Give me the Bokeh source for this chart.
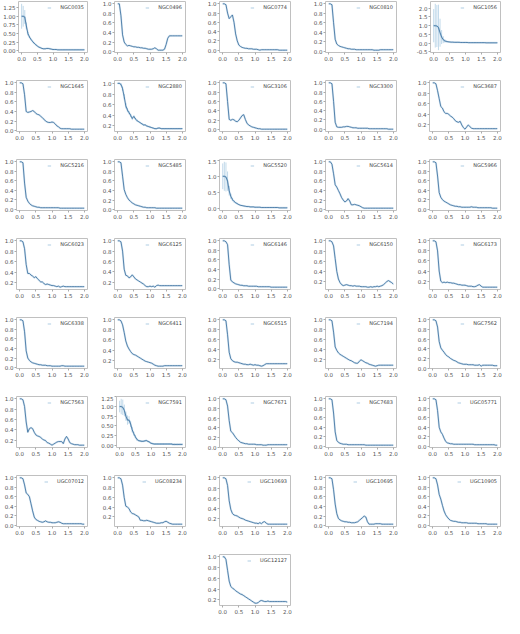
from bokeh.plotting import figure
from bokeh.layouts import column, row
from bokeh.models import (Range1d, DataRange1d, SingleIntervalTicker, NumeralTickFormatter,
                          Legend, LegendItem, Spacer, ColumnDataSource)
from bokeh.embed import file_html
from bokeh.resources import INLINE

# ---------------- data ----------------
radius = [0.0, 0.05, 0.1, 0.15, 0.2, 0.25, 0.3, 0.35, 0.4, 0.45,
          0.5, 0.55, 0.6, 0.65, 0.7, 0.75, 0.8, 0.85, 0.9, 0.95,
          1.0, 1.05, 1.1, 1.15, 1.2, 1.25, 1.3, 1.35, 1.4, 1.45,
          1.5, 1.55, 1.6, 1.65, 1.7, 1.75, 1.8, 1.85, 1.9, 1.95,
          2.0]

galaxies = ["NGC0035", "NGC0496", "NGC0774", "NGC0810", "NGC1056",
            "NGC1645", "NGC2880", "NGC3106", "NGC3300", "NGC3687",
            "NGC5216", "NGC5485", "NGC5520", "NGC5614", "NGC5966",
            "NGC6023", "NGC6125", "NGC6146", "NGC6150", "NGC6173",
            "NGC6338", "NGC6411", "NGC6515", "NGC7194", "NGC7562",
            "NGC7563", "NGC7591", "NGC7671", "NGC7683", "UGC05771",
            "UGC07012", "UGC08234", "UGC10693", "UGC10695", "UGC10905",
            "UGC12127"]

y_NGC0035 = [1.00, 1.00, 0.98, 0.72, 0.50, 0.40, 0.33, 0.27, 0.22, 0.18,
             0.14, 0.11, 0.09, 0.07, 0.06, 0.06, 0.07, 0.07, 0.06, 0.05,
             0.04, 0.04, 0.04, 0.03, 0.03, 0.03, 0.03, 0.03, 0.03, 0.03,
             0.03, 0.03, 0.03, 0.03, 0.03, 0.03, 0.03, 0.03, 0.03, 0.03,
             0.03]
e_NGC0035 = [0.36, 0.30, 0.20, 0.10, 0.05, 0.03, 0.02, 0.02, 0.02, 0.02,
             0.01, 0.01, 0.01, 0.01, 0.01, 0.01, 0.01, 0.01, 0.01, 0.01,
             0.01, 0.01, 0.01, 0.01, 0.01, 0.01, 0.01, 0.01, 0.01, 0.01,
             0.01, 0.01, 0.01, 0.01, 0.01, 0.01, 0.01, 0.01, 0.01, 0.01,
             0.01]
y_NGC0496 = [1.00, 1.00, 0.75, 0.35, 0.20, 0.15, 0.12, 0.13, 0.12, 0.11,
             0.10, 0.10, 0.09, 0.09, 0.08, 0.08, 0.07, 0.07, 0.06, 0.05,
             0.05, 0.05, 0.06, 0.08, 0.06, 0.03, 0.03, 0.03, 0.03, 0.05,
             0.15, 0.28, 0.33, 0.33, 0.33, 0.33, 0.33, 0.33, 0.33, 0.33,
             0.33]
y_NGC0774 = [1.00, 1.00, 0.98, 0.80, 0.68, 0.72, 0.76, 0.60, 0.35, 0.20,
             0.11, 0.08, 0.06, 0.05, 0.04, 0.04, 0.03, 0.03, 0.03, 0.02,
             0.02, 0.02, 0.01, 0.00, 0.01, 0.01, 0.01, 0.01, 0.01, 0.01,
             0.01, 0.01, 0.01, 0.01, 0.01, 0.00, 0.00, 0.00, 0.00, 0.00,
             0.00]
y_NGC0810 = [1.00, 1.00, 0.98, 0.60, 0.25, 0.15, 0.12, 0.10, 0.09, 0.08,
             0.07, 0.06, 0.05, 0.05, 0.04, 0.04, 0.04, 0.03, 0.03, 0.03,
             0.03, 0.03, 0.03, 0.03, 0.03, 0.03, 0.03, 0.03, 0.02, 0.02,
             0.02, 0.02, 0.03, 0.03, 0.03, 0.03, 0.03, 0.03, 0.03, 0.03,
             0.03]
y_NGC1056 = [1.00, 1.00, 0.98, 0.90, 0.60, 0.35, 0.20, 0.13, 0.10, 0.08,
             0.07, 0.06, 0.06, 0.05, 0.05, 0.05, 0.05, 0.04, 0.04, 0.04,
             0.04, 0.04, 0.03, 0.03, 0.03, 0.03, 0.03, 0.03, 0.03, 0.03,
             0.03, 0.03, 0.03, 0.02, 0.02, 0.02, 0.02, 0.02, 0.02, 0.02,
             0.02]
e_NGC1056 = [0.95, 1.25, 1.20, 1.30, 0.80, 0.40, 0.20, 0.10, 0.05, 0.03,
             0.02, 0.02, 0.02, 0.02, 0.02, 0.02, 0.02, 0.02, 0.02, 0.02,
             0.02, 0.02, 0.02, 0.02, 0.02, 0.02, 0.02, 0.02, 0.02, 0.02,
             0.02, 0.02, 0.02, 0.02, 0.02, 0.02, 0.02, 0.02, 0.02, 0.02,
             0.02]
y_NGC1645 = [1.00, 1.00, 0.98, 0.75, 0.40, 0.38, 0.39, 0.40, 0.42, 0.40,
             0.36, 0.34, 0.33, 0.30, 0.27, 0.24, 0.20, 0.18, 0.17, 0.17,
             0.18, 0.17, 0.14, 0.10, 0.08, 0.05, 0.04, 0.04, 0.04, 0.04,
             0.04, 0.04, 0.03, 0.03, 0.03, 0.03, 0.03, 0.03, 0.03, 0.03,
             0.03]
y_NGC2880 = [1.00, 1.00, 0.98, 0.90, 0.75, 0.58, 0.50, 0.45, 0.40, 0.34,
             0.38, 0.33, 0.30, 0.28, 0.26, 0.24, 0.22, 0.22, 0.20, 0.19,
             0.18, 0.17, 0.16, 0.15, 0.15, 0.16, 0.16, 0.15, 0.15, 0.15,
             0.15, 0.15, 0.15, 0.15, 0.15, 0.15, 0.15, 0.15, 0.15, 0.15,
             0.15]
e_NGC2880 = [0.01, 0.01, 0.02, 0.04, 0.05, 0.05, 0.04, 0.03, 0.03, 0.03,
             0.02, 0.02, 0.02, 0.01, 0.01, 0.01, 0.01, 0.01, 0.01, 0.01,
             0.01, 0.01, 0.01, 0.01, 0.01, 0.01, 0.01, 0.01, 0.01, 0.01,
             0.01, 0.01, 0.01, 0.01, 0.01, 0.01, 0.01, 0.01, 0.01, 0.01,
             0.01]
y_NGC3106 = [1.00, 1.00, 0.98, 0.60, 0.22, 0.20, 0.22, 0.21, 0.18, 0.17,
             0.20, 0.25, 0.30, 0.32, 0.22, 0.14, 0.10, 0.08, 0.06, 0.05,
             0.04, 0.03, 0.02, 0.02, 0.01, 0.01, 0.01, 0.01, 0.01, 0.01,
             0.01, 0.01, 0.01, 0.01, 0.01, 0.01, 0.01, 0.01, 0.01, 0.01,
             0.01]
y_NGC3300 = [1.00, 1.00, 0.98, 0.60, 0.15, 0.05, 0.04, 0.04, 0.04, 0.05,
             0.05, 0.06, 0.06, 0.05, 0.04, 0.03, 0.03, 0.03, 0.02, 0.02,
             0.02, 0.02, 0.02, 0.02, 0.02, 0.01, 0.01, 0.01, 0.01, 0.01,
             0.01, 0.01, 0.01, 0.01, 0.01, 0.01, 0.01, 0.00, 0.00, 0.00,
             0.00]
y_NGC3687 = [1.00, 1.00, 0.98, 0.85, 0.70, 0.55, 0.52, 0.45, 0.42, 0.42,
             0.40, 0.37, 0.35, 0.32, 0.28, 0.26, 0.25, 0.27, 0.20, 0.15,
             0.12, 0.16, 0.20, 0.17, 0.14, 0.13, 0.13, 0.13, 0.13, 0.13,
             0.13, 0.13, 0.13, 0.13, 0.13, 0.13, 0.13, 0.13, 0.13, 0.13,
             0.13]
y_NGC5216 = [1.00, 1.00, 0.98, 0.55, 0.25, 0.17, 0.12, 0.09, 0.07, 0.06,
             0.05, 0.04, 0.04, 0.03, 0.03, 0.03, 0.03, 0.03, 0.03, 0.03,
             0.03, 0.03, 0.03, 0.03, 0.03, 0.02, 0.02, 0.02, 0.02, 0.02,
             0.02, 0.02, 0.02, 0.02, 0.02, 0.02, 0.02, 0.02, 0.02, 0.02,
             0.02]
y_NGC5485 = [1.00, 1.00, 0.98, 0.70, 0.42, 0.32, 0.25, 0.20, 0.17, 0.14,
             0.12, 0.10, 0.09, 0.08, 0.07, 0.06, 0.05, 0.05, 0.04, 0.04,
             0.04, 0.04, 0.04, 0.04, 0.03, 0.03, 0.03, 0.03, 0.03, 0.03,
             0.03, 0.03, 0.03, 0.03, 0.03, 0.03, 0.03, 0.03, 0.03, 0.03,
             0.03]
y_NGC5520 = [1.00, 1.00, 0.98, 0.85, 0.55, 0.38, 0.28, 0.22, 0.18, 0.15,
             0.12, 0.10, 0.09, 0.08, 0.07, 0.06, 0.06, 0.05, 0.05, 0.05,
             0.04, 0.04, 0.04, 0.04, 0.03, 0.03, 0.03, 0.03, 0.03, 0.03,
             0.03, 0.03, 0.03, 0.03, 0.03, 0.02, 0.02, 0.02, 0.02, 0.02,
             0.02]
e_NGC5520 = [0.40, 0.45, 0.45, 0.30, 0.15, 0.08, 0.05, 0.03, 0.02, 0.02,
             0.01, 0.01, 0.01, 0.01, 0.01, 0.01, 0.01, 0.01, 0.01, 0.01,
             0.01, 0.01, 0.01, 0.01, 0.01, 0.01, 0.01, 0.01, 0.01, 0.01,
             0.01, 0.01, 0.01, 0.01, 0.01, 0.01, 0.01, 0.01, 0.01, 0.01,
             0.01]
y_NGC5614 = [1.00, 1.00, 0.95, 0.75, 0.52, 0.47, 0.40, 0.33, 0.25, 0.20,
             0.16, 0.18, 0.23, 0.18, 0.10, 0.10, 0.11, 0.10, 0.09, 0.08,
             0.06, 0.04, 0.03, 0.03, 0.03, 0.03, 0.03, 0.03, 0.03, 0.03,
             0.03, 0.03, 0.03, 0.03, 0.03, 0.03, 0.03, 0.03, 0.03, 0.03,
             0.03]
y_NGC5966 = [1.00, 1.00, 0.98, 0.70, 0.35, 0.25, 0.20, 0.17, 0.15, 0.13,
             0.11, 0.09, 0.08, 0.07, 0.06, 0.06, 0.05, 0.05, 0.04, 0.04,
             0.04, 0.04, 0.04, 0.04, 0.05, 0.04, 0.04, 0.04, 0.03, 0.03,
             0.03, 0.03, 0.03, 0.03, 0.03, 0.03, 0.03, 0.02, 0.02, 0.02,
             0.02]
y_NGC6023 = [1.00, 1.00, 0.98, 0.85, 0.55, 0.38, 0.38, 0.35, 0.33, 0.30,
             0.32, 0.28, 0.25, 0.22, 0.22, 0.19, 0.17, 0.18, 0.17, 0.16,
             0.15, 0.15, 0.14, 0.13, 0.14, 0.12, 0.13, 0.14, 0.13, 0.13,
             0.13, 0.13, 0.13, 0.13, 0.13, 0.13, 0.13, 0.13, 0.13, 0.13,
             0.13]
y_NGC6125 = [1.00, 1.00, 0.98, 0.80, 0.45, 0.33, 0.32, 0.28, 0.30, 0.34,
             0.30, 0.26, 0.24, 0.22, 0.20, 0.18, 0.16, 0.13, 0.11, 0.11,
             0.12, 0.11, 0.12, 0.10, 0.13, 0.14, 0.13, 0.13, 0.13, 0.13,
             0.13, 0.13, 0.13, 0.13, 0.13, 0.13, 0.13, 0.13, 0.13, 0.13,
             0.13]
y_NGC6146 = [1.00, 1.00, 0.98, 0.92, 0.50, 0.18, 0.14, 0.12, 0.10, 0.09,
             0.08, 0.07, 0.07, 0.06, 0.06, 0.06, 0.05, 0.05, 0.05, 0.05,
             0.05, 0.05, 0.04, 0.04, 0.04, 0.04, 0.04, 0.04, 0.04, 0.04,
             0.03, 0.03, 0.03, 0.03, 0.03, 0.03, 0.03, 0.03, 0.03, 0.03,
             0.03]
y_NGC6150 = [1.00, 1.00, 0.98, 0.90, 0.65, 0.40, 0.25, 0.18, 0.14, 0.12,
             0.13, 0.14, 0.13, 0.12, 0.12, 0.11, 0.12, 0.11, 0.11, 0.11,
             0.10, 0.10, 0.10, 0.10, 0.09, 0.09, 0.10, 0.09, 0.10, 0.10,
             0.11, 0.10, 0.11, 0.12, 0.14, 0.17, 0.20, 0.22, 0.20, 0.18,
             0.15]
y_NGC6173 = [1.00, 1.00, 0.98, 0.80, 0.40, 0.20, 0.17, 0.18, 0.17, 0.18,
             0.17, 0.17, 0.16, 0.16, 0.15, 0.14, 0.13, 0.13, 0.12, 0.12,
             0.12, 0.11, 0.10, 0.10, 0.10, 0.09, 0.09, 0.10, 0.12, 0.13,
             0.10, 0.08, 0.08, 0.08, 0.08, 0.08, 0.08, 0.08, 0.08, 0.08,
             0.08]
y_NGC6338 = [1.00, 1.00, 0.98, 0.75, 0.35, 0.20, 0.15, 0.12, 0.10, 0.09,
             0.08, 0.07, 0.06, 0.06, 0.05, 0.05, 0.05, 0.04, 0.04, 0.04,
             0.03, 0.03, 0.03, 0.03, 0.03, 0.03, 0.04, 0.04, 0.03, 0.03,
             0.03, 0.03, 0.03, 0.03, 0.03, 0.03, 0.03, 0.03, 0.03, 0.03,
             0.03]
y_NGC6411 = [1.00, 1.00, 0.98, 0.90, 0.75, 0.58, 0.48, 0.42, 0.37, 0.33,
             0.31, 0.30, 0.28, 0.26, 0.24, 0.22, 0.20, 0.18, 0.17, 0.16,
             0.15, 0.14, 0.12, 0.10, 0.09, 0.08, 0.08, 0.08, 0.08, 0.09,
             0.09, 0.09, 0.09, 0.09, 0.09, 0.09, 0.09, 0.09, 0.09, 0.09,
             0.09]
y_NGC6515 = [1.00, 1.00, 0.98, 0.70, 0.35, 0.22, 0.18, 0.16, 0.15, 0.15,
             0.14, 0.13, 0.12, 0.11, 0.11, 0.10, 0.10, 0.11, 0.10, 0.09,
             0.10, 0.09, 0.09, 0.08, 0.07, 0.08, 0.10, 0.12, 0.12, 0.12,
             0.12, 0.12, 0.12, 0.12, 0.12, 0.12, 0.12, 0.12, 0.12, 0.12,
             0.12]
y_NGC7194 = [1.00, 1.00, 0.98, 0.75, 0.45, 0.38, 0.33, 0.30, 0.28, 0.26,
             0.24, 0.22, 0.20, 0.18, 0.17, 0.15, 0.13, 0.12, 0.12, 0.16,
             0.19, 0.17, 0.15, 0.13, 0.12, 0.10, 0.09, 0.08, 0.07, 0.06,
             0.07, 0.08, 0.08, 0.08, 0.08, 0.08, 0.08, 0.08, 0.08, 0.08,
             0.08]
y_NGC7562 = [1.00, 1.00, 0.98, 0.85, 0.55, 0.42, 0.37, 0.33, 0.28, 0.25,
             0.23, 0.20, 0.18, 0.16, 0.15, 0.13, 0.11, 0.10, 0.09, 0.08,
             0.08, 0.08, 0.07, 0.07, 0.07, 0.07, 0.06, 0.06, 0.06, 0.07,
             0.04, 0.06, 0.06, 0.06, 0.06, 0.06, 0.06, 0.06, 0.05, 0.05,
             0.05]
y_NGC7563 = [1.00, 1.00, 0.98, 0.85, 0.55, 0.35, 0.42, 0.44, 0.42, 0.35,
             0.30, 0.28, 0.27, 0.25, 0.22, 0.20, 0.19, 0.15, 0.14, 0.12,
             0.10, 0.12, 0.14, 0.16, 0.17, 0.17, 0.17, 0.13, 0.22, 0.27,
             0.22, 0.15, 0.13, 0.12, 0.11, 0.11, 0.11, 0.10, 0.10, 0.10,
             0.10]
y_NGC7591 = [1.00, 1.00, 0.98, 0.90, 0.75, 0.65, 0.65, 0.55, 0.40, 0.30,
             0.22, 0.15, 0.12, 0.11, 0.10, 0.10, 0.11, 0.12, 0.10, 0.08,
             0.05, 0.04, 0.03, 0.03, 0.03, 0.03, 0.03, 0.03, 0.03, 0.03,
             0.03, 0.03, 0.03, 0.03, 0.02, 0.02, 0.02, 0.02, 0.02, 0.02,
             0.02]
e_NGC7591 = [0.15, 0.20, 0.20, 0.15, 0.12, 0.12, 0.10, 0.08, 0.07, 0.05,
             0.04, 0.03, 0.02, 0.02, 0.02, 0.02, 0.02, 0.02, 0.02, 0.02,
             0.02, 0.02, 0.02, 0.02, 0.02, 0.02, 0.02, 0.02, 0.02, 0.02,
             0.02, 0.02, 0.02, 0.02, 0.02, 0.02, 0.02, 0.02, 0.02, 0.02,
             0.02]
y_NGC7671 = [1.00, 1.00, 0.98, 0.85, 0.55, 0.33, 0.30, 0.25, 0.20, 0.16,
             0.13, 0.10, 0.09, 0.08, 0.07, 0.07, 0.06, 0.06, 0.06, 0.06,
             0.06, 0.05, 0.05, 0.05, 0.05, 0.04, 0.04, 0.04, 0.05, 0.05,
             0.05, 0.05, 0.05, 0.05, 0.05, 0.05, 0.05, 0.05, 0.05, 0.05,
             0.05]
y_NGC7683 = [1.00, 1.00, 0.98, 0.70, 0.30, 0.12, 0.08, 0.06, 0.05, 0.04,
             0.04, 0.04, 0.03, 0.03, 0.03, 0.03, 0.03, 0.03, 0.03, 0.03,
             0.03, 0.03, 0.03, 0.02, 0.02, 0.02, 0.02, 0.02, 0.02, 0.02,
             0.02, 0.02, 0.02, 0.02, 0.02, 0.02, 0.02, 0.02, 0.02, 0.02,
             0.02]
y_UGC05771 = [1.00, 1.00, 0.98, 0.75, 0.40, 0.30, 0.25, 0.17, 0.10, 0.07,
              0.06, 0.05, 0.05, 0.04, 0.04, 0.04, 0.04, 0.04, 0.04, 0.04,
              0.04, 0.04, 0.04, 0.04, 0.04, 0.04, 0.03, 0.03, 0.03, 0.03,
              0.03, 0.03, 0.03, 0.03, 0.03, 0.03, 0.03, 0.03, 0.03, 0.02,
              0.02]
y_UGC07012 = [1.00, 1.00, 0.98, 0.85, 0.68, 0.65, 0.60, 0.45, 0.30, 0.17,
              0.12, 0.10, 0.08, 0.07, 0.06, 0.07, 0.09, 0.07, 0.06, 0.06,
              0.05, 0.05, 0.05, 0.06, 0.07, 0.06, 0.04, 0.03, 0.03, 0.03,
              0.03, 0.03, 0.03, 0.03, 0.03, 0.03, 0.03, 0.03, 0.03, 0.02,
              0.02]
y_UGC08234 = [1.00, 1.00, 0.98, 0.85, 0.60, 0.42, 0.40, 0.37, 0.30, 0.27,
              0.26, 0.24, 0.22, 0.20, 0.13, 0.13, 0.12, 0.12, 0.13, 0.12,
              0.11, 0.10, 0.09, 0.08, 0.07, 0.07, 0.07, 0.08, 0.08, 0.10,
              0.11, 0.09, 0.07, 0.06, 0.05, 0.05, 0.05, 0.05, 0.05, 0.05,
              0.05]
y_UGC10693 = [1.00, 1.00, 0.98, 0.85, 0.55, 0.38, 0.30, 0.27, 0.26, 0.25,
              0.23, 0.21, 0.20, 0.19, 0.17, 0.16, 0.15, 0.14, 0.13, 0.12,
              0.11, 0.11, 0.10, 0.12, 0.10, 0.13, 0.14, 0.11, 0.09, 0.09,
              0.09, 0.09, 0.09, 0.09, 0.09, 0.09, 0.09, 0.09, 0.09, 0.09,
              0.09]
y_UGC10695 = [1.00, 1.00, 0.98, 0.75, 0.45, 0.25, 0.15, 0.12, 0.10, 0.09,
              0.08, 0.08, 0.07, 0.07, 0.06, 0.06, 0.06, 0.07, 0.08, 0.11,
              0.14, 0.17, 0.20, 0.18, 0.08, 0.03, 0.03, 0.03, 0.03, 0.04,
              0.04, 0.04, 0.04, 0.03, 0.03, 0.03, 0.03, 0.03, 0.03, 0.03,
              0.03]
y_UGC10905 = [1.00, 1.00, 0.98, 0.85, 0.65, 0.55, 0.42, 0.30, 0.22, 0.17,
              0.13, 0.10, 0.09, 0.08, 0.08, 0.07, 0.06, 0.06, 0.05, 0.05,
              0.05, 0.05, 0.04, 0.04, 0.04, 0.04, 0.04, 0.04, 0.03, 0.03,
              0.03, 0.03, 0.03, 0.03, 0.02, 0.02, 0.02, 0.02, 0.02, 0.02,
              0.02]
y_UGC12127 = [1.00, 1.00, 0.95, 0.75, 0.55, 0.45, 0.42, 0.40, 0.37, 0.35,
              0.33, 0.31, 0.30, 0.28, 0.26, 0.24, 0.22, 0.20, 0.18, 0.16,
              0.14, 0.14, 0.15, 0.18, 0.19, 0.18, 0.17, 0.17, 0.18, 0.17,
              0.17, 0.17, 0.17, 0.17, 0.17, 0.17, 0.17, 0.17, 0.17, 0.17,
              0.16]

profiles = {g: globals()["y_" + g] for g in galaxies}
errors = {"NGC0035": e_NGC0035, "NGC1056": e_NGC1056, "NGC2880": e_NGC2880,
          "NGC5520": e_NGC5520, "NGC7591": e_NGC7591}
ytick_step = {"NGC0035": 0.25, "NGC1056": 0.5, "NGC5520": 0.5, "NGC7591": 0.25}

for g in galaxies:
    assert len(profiles[g]) == len(radius), g
for g, e in errors.items():
    assert len(e) == len(radius), g

# ---------------- layout / style ----------------
COL_W = [98, 105, 106, 104, 91]
LB, FW, FH, TB = 16, 71, 51, 1
ROW_BB, LAST_BB = 27, 13
FONT = "DejaVu Sans"
LINE_C = "#33699a"
ERR_C = "#1f77b4"


def panel(name, col, bottom_border):
    w = COL_W[col]
    p = figure(width=w, height=TB + FH + bottom_border,
               x_range=Range1d(-0.1, 2.1), y_range=DataRange1d(range_padding=0.1),
               output_backend="svg", toolbar_location=None,
               min_border_left=LB, min_border_right=w - LB - FW,
               min_border_top=TB, min_border_bottom=bottom_border)
    y = profiles[name]
    err = errors.get(name)
    if err is not None:
        src = ColumnDataSource(dict(x=radius, lo=[a - b for a, b in zip(y, err)],
                                    hi=[a + b for a, b in zip(y, err)]))
        p.segment(x0="x", y0="lo", x1="x", y1="hi", source=src,
                  line_color=ERR_C, line_alpha=0.28, line_width=1)
    halo = p.line(radius, y, line_color=ERR_C, line_alpha=0.18, line_width=2)
    p.line(radius, y, line_color=LINE_C, line_width=0.8)

    step = ytick_step.get(name, 0.2)
    p.xaxis.ticker = SingleIntervalTicker(interval=0.5, num_minor_ticks=0)
    p.xaxis.formatter = NumeralTickFormatter(format="0.0")
    p.yaxis.ticker = SingleIntervalTicker(interval=step, num_minor_ticks=0)
    p.yaxis.formatter = NumeralTickFormatter(format="0.00" if step == 0.25 else "0.0")
    for ax in (p.xaxis[0], p.yaxis[0]):
        ax.major_label_text_font = FONT
        ax.major_label_text_font_size = "5.5px"
        ax.major_label_text_color = "#555555"
        ax.major_tick_out = 2
        ax.major_tick_in = 0
        ax.minor_tick_out = 0
        ax.minor_tick_in = 0
        ax.major_tick_line_color = "#aaaaaa"
        ax.axis_line_color = None
        ax.major_label_standoff = 1
    p.grid.visible = False
    p.outline_line_color = "#c0c0c0"
    p.outline_line_width = 1
    p.background_fill_color = "white"
    p.border_fill_color = "white"

    leg = Legend(items=[LegendItem(label=name, renderers=[halo])], location="top_right",
                 label_text_font=FONT, label_text_font_size="5px",
                 label_text_color="#444444", glyph_width=4, glyph_height=5,
                 label_height=5, label_standoff=9, padding=1, margin=2, spacing=0,
                 border_line_alpha=0, background_fill_alpha=0)
    p.add_layout(leg)
    return p


rows = []
for r in range(7):
    figs = [panel(galaxies[r * 5 + c], c, ROW_BB) for c in range(5)]
    rows.append(row(*figs))
last = panel(galaxies[35], 2, LAST_BB)
rows.append(row(Spacer(width=COL_W[0] + COL_W[1], height=TB + FH + LAST_BB), last))

layout = column(*rows)
open("out.html", "w").write(file_html(layout, INLINE))
